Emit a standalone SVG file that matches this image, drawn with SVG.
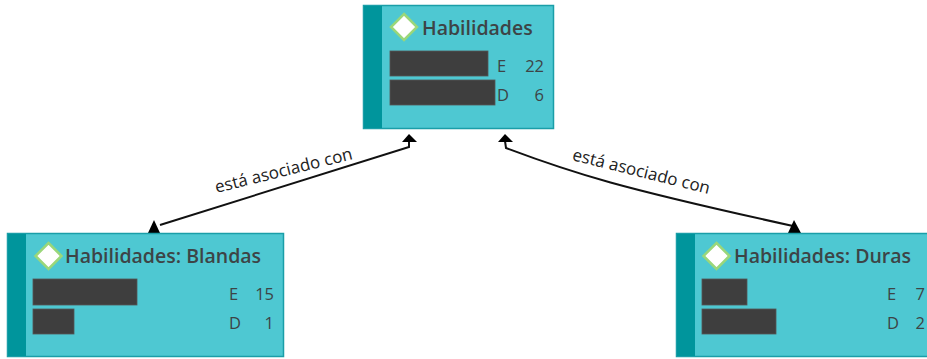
<svg xmlns="http://www.w3.org/2000/svg" width="927" height="359" viewBox="0 0 927 359">
<defs>
<style>
.box{fill:#4ec8d2;stroke:#1a9ea8;stroke-width:1.5}
.strip{fill:#00959c}
.dia{fill:#ffffff;stroke:#9ad77a;stroke-width:2.5}
.title{font-family:"Open Sans","Liberation Sans",sans-serif;font-weight:600;font-size:19.5px;fill:#3d4446}
.num{font-family:"Open Sans","Liberation Sans",sans-serif;font-size:16.5px;fill:#3d4446}
.bar{fill:#3e3e3e;stroke:#555;stroke-width:0.8}
.lbl{font-family:"Open Sans","Liberation Sans",sans-serif;font-size:17px;fill:#222;text-anchor:middle}
.ln{fill:none;stroke:#111;stroke-width:2}
.ah{fill:#000}
</style>
</defs>
<rect width="927" height="359" fill="#ffffff"/>
<g id="connectors">
<path class="ln" d="M409,141 L409,147 L160,225"/>
<polygon class="ah" points="409,134 402,142 417,142"/>
<polygon class="ah" points="154,220 148,233 160,233"/>
<path class="ln" d="M505,141 L506,148 C575,174 620,188 793,226"/>
<polygon class="ah" points="505,134 498,142 513,142"/>
<polygon class="ah" points="794,220 788,233 801,233"/>
<text class="lbl" transform="translate(285,176) rotate(-14)">está asociado con</text>
<text class="lbl" transform="translate(640,177) rotate(14)">está asociado con</text>
</g>
<g id="node-habilidades">
<rect class="box" x="363.5" y="5.5" width="190" height="123"/>
<rect class="strip" x="364" y="6" width="18" height="122"/>
<polygon class="dia" points="404,14 417,27 404,40 391,27"/>
<text class="title" x="422" y="35">Habilidades</text>
<rect class="bar" x="390" y="51" width="98" height="25"/>
<rect class="bar" x="390" y="80" width="105" height="25"/>
<text class="num" x="497" y="72">E</text>
<text class="num" x="544" y="72" text-anchor="end">22</text>
<text class="num" x="497" y="101">D</text>
<text class="num" x="544" y="101" text-anchor="end">6</text>
</g>
<g id="node-blandas">
<rect class="box" x="7.5" y="233.5" width="276" height="123"/>
<rect class="strip" x="8" y="234" width="18" height="122"/>
<polygon class="dia" points="48.5,243 61.5,256 48.5,269 35.5,256"/>
<text class="title" x="65" y="263">Habilidades: Blandas</text>
<rect class="bar" x="33" y="279" width="104" height="26"/>
<rect class="bar" x="33" y="309" width="41" height="25"/>
<text class="num" x="229" y="300">E</text>
<text class="num" x="274" y="300" text-anchor="end">15</text>
<text class="num" x="229" y="329">D</text>
<text class="num" x="274" y="329" text-anchor="end">1</text>
</g>
<g id="node-duras">
<rect class="box" x="676.5" y="233.5" width="270" height="123"/>
<rect class="strip" x="677" y="234" width="18" height="122"/>
<polygon class="dia" points="716.5,243 729.5,256 716.5,269 703.5,256"/>
<text class="title" x="734" y="263">Habilidades: Duras</text>
<rect class="bar" x="702" y="279" width="45" height="26"/>
<rect class="bar" x="702" y="309" width="74" height="25"/>
<text class="num" x="887" y="300">E</text>
<text class="num" x="925" y="300" text-anchor="end">7</text>
<text class="num" x="887" y="329">D</text>
<text class="num" x="925" y="329" text-anchor="end">2</text>
</g>
</svg>
